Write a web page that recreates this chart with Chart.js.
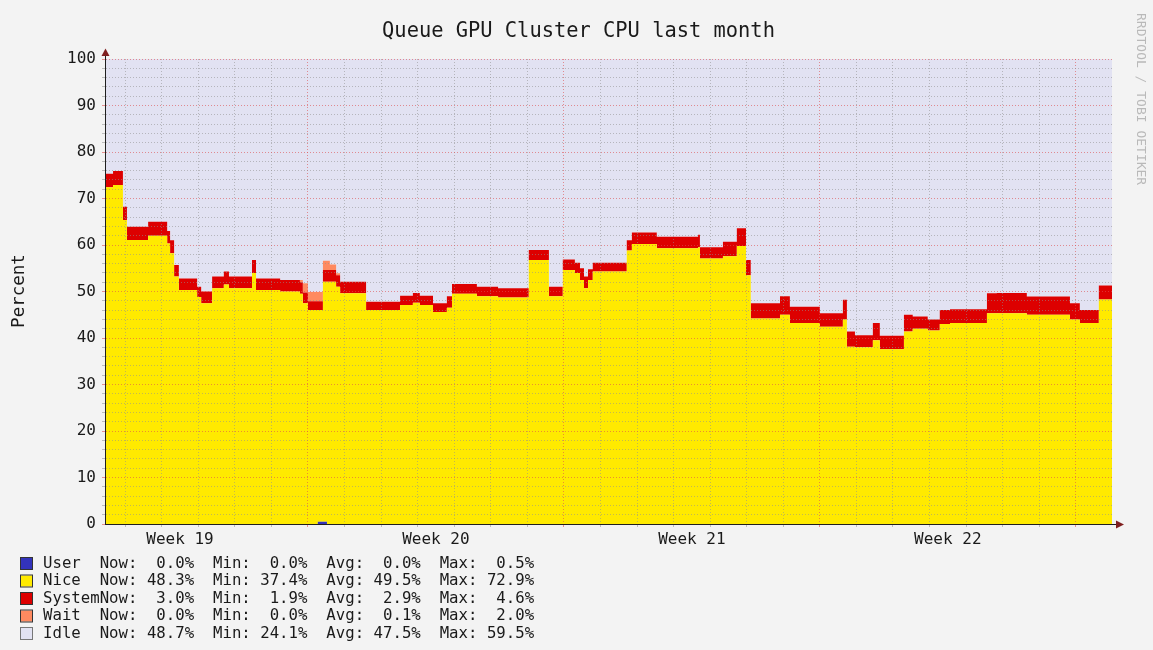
<!DOCTYPE html>
<html>
<head>
<meta charset="utf-8">
<title>Queue GPU Cluster CPU last month</title>
<script src="https://cdn.jsdelivr.net/npm/chart.js@4/dist/chart.umd.min.js"></script>
<style>
  html, body { margin: 0; padding: 0; background: #f3f3f3; }
  canvas { display: block; }
</style>
</head>
<body>
<canvas id="cpuChart" width="1153" height="650"></canvas>
<script>
// time axis: days since the left edge of the graph, one entry per step change
const days = [0.00, 0.22, 0.49, 0.60, 1.18, 1.70, 1.78, 1.89, 2.02, 2.52,
  2.63, 2.93, 3.25, 3.39, 4.02, 4.13, 4.79, 5.33, 5.41, 5.55,
  5.82, 5.96, 6.07, 6.15, 6.32, 6.43, 7.14, 8.07, 8.42, 8.61,
  8.97, 9.35, 9.49, 10.17, 10.75, 11.59, 12.14, 12.52, 12.85, 12.99,
  13.10, 13.21, 13.34, 14.27, 14.41, 15.09, 16.22, 16.27, 16.90, 17.28,
  17.53, 17.66, 18.46, 18.73, 19.55, 20.18, 20.29, 20.51, 21.00, 21.19,
  21.85, 22.09, 22.50, 22.83, 23.11, 24.12, 24.39, 25.21, 26.39, 26.66,
  27.18, 27.54];

const userPct = [0, 0, 0, 0, 0, 0, 0, 0, 0, 0,
  0, 0, 0, 0, 0, 0, 0, 0, 0, 0,
  0.5, 0.5, 0, 0, 0, 0, 0, 0, 0, 0,
  0, 0, 0, 0, 0, 0, 0, 0, 0, 0,
  0, 0, 0, 0, 0, 0, 0, 0, 0, 0,
  0, 0, 0, 0, 0, 0, 0, 0, 0, 0,
  0, 0, 0, 0, 0, 0, 0, 0, 0, 0,
  0, 0];

const nicePct = [72.4, 72.9, 65.4, 61.1, 62.0, 60.3, 58.2, 53.2, 50.3, 48.8,
  47.5, 50.7, 51.5, 50.7, 54.0, 50.3, 50.0, 49.5, 47.5, 46.0,
  45.5, 51.6, 52.1, 52.1, 51.0, 49.6, 46.0, 47.1, 47.6, 47.1,
  45.6, 46.5, 49.5, 49.0, 48.7, 56.8, 49.0, 54.6, 54.0, 52.5,
  50.7, 52.5, 54.3, 58.8, 60.2, 59.3, 59.5, 57.1, 57.6, 59.8,
  53.5, 44.2, 45.0, 43.2, 42.4, 44.0, 38.1, 38.0, 39.5, 37.6,
  41.4, 42.0, 41.6, 43.0, 43.2, 45.3, 45.3, 45.0, 44.0, 43.2,
  48.3, 48.3];

const systemPct = [2.9, 3.0, 2.8, 2.8, 3.0, 2.7, 2.8, 2.5, 2.5, 2.2,
  2.5, 2.5, 2.8, 2.5, 2.8, 2.5, 2.5, 2.5, 2.3, 1.9,
  1.9, 2.5, 2.5, 2.5, 2.5, 2.5, 1.8, 2.0, 2.1, 2.0,
  1.9, 2.5, 2.1, 2.0, 2.0, 2.1, 2.0, 2.3, 2.2, 2.5,
  2.5, 2.3, 1.9, 2.2, 2.5, 2.5, 2.7, 2.4, 3.1, 3.8,
  3.3, 3.3, 4.0, 3.5, 2.9, 4.2, 3.3, 2.6, 3.7, 2.9,
  3.6, 2.6, 2.4, 3.0, 3.0, 4.3, 4.4, 3.9, 3.5, 2.8,
  3.0, 3.0];

const waitPct = [0, 0, 0, 0, 0, 0, 0, 0, 0, 0,
  0, 0, 0, 0, 0, 0, 0, 0.5, 2.0, 2.0,
  2.0, 2.0, 2.0, 1.2, 0.4, 0, 0, 0, 0, 0,
  0, 0, 0, 0, 0, 0, 0, 0, 0, 0,
  0, 0, 0, 0, 0, 0, 0, 0, 0, 0,
  0, 0, 0, 0, 0, 0, 0, 0, 0, 0,
  0, 0, 0, 0, 0, 0, 0, 0, 0, 0,
  0, 0];

const idlePct = [24.7, 24.1, 31.8, 36.1, 35.0, 37.0, 39.0, 44.3, 47.2, 49.0,
  50.0, 46.8, 45.7, 46.8, 43.2, 47.2, 47.5, 47.5, 48.2, 50.1,
  50.1, 43.4, 43.4, 44.2, 46.1, 47.9, 52.2, 50.9, 50.3, 50.9,
  52.5, 51.0, 48.4, 49.0, 49.3, 41.1, 49.0, 43.1, 43.8, 45.0,
  46.8, 45.2, 43.8, 39.0, 37.3, 38.2, 37.8, 40.5, 39.3, 36.4,
  43.2, 52.5, 51.0, 53.3, 54.7, 51.8, 58.6, 59.4, 56.8, 59.5,
  55.0, 55.4, 56.0, 54.0, 53.8, 50.4, 50.3, 51.1, 52.5, 54.0,
  48.7, 48.7];

// legend figures
const seriesNames = ['User', 'Nice', 'System', 'Wait', 'Idle'];
const statNow = [0.0, 48.3, 3.0, 0.0, 48.7];
const statMin = [0.0, 37.4, 1.9, 0.0, 24.1];
const statAvg = [0.0, 49.5, 2.9, 0.1, 47.5];
const statMax = [0.5, 72.9, 4.6, 2.0, 59.5];

// x axis: week labels and the day where each week starts
const weekLabels = ['Week 19', 'Week 20', 'Week 21', 'Week 22'];
const weekLabelDays = [2.05, 9.05, 16.05, 23.05];
const weekStartDays = [5.55, 12.55, 19.55, 26.55];
const firstMidnight = 0.55;
const lastDay = 27.54;

const colors = ['#3333bb', '#ffea00', '#dd0000', '#ff8a60', '#e2e2f2'];
const monoFont = 'DejaVu Sans Mono';
const minorGrid = 'rgba(143,143,143,0.55)';
const majorGrid = 'rgba(222,80,80,0.6)';

function makeDataset(i, values) {
  return {
    label: seriesNames[i],
    data: values,
    backgroundColor: colors[i],
    borderColor: colors[i],
    borderWidth: 0,
    pointRadius: 0,
    stepped: true,
    fill: i == 0 ? 'origin' : '-1'
  };
}

function buildXTicks(scale) {
  var ticks = [];
  for (var d = firstMidnight; d < lastDay; d += 1) {
    var isMajor = weekStartDays.some(function (w) { return Math.abs(w - d) < 0.05; });
    ticks.push({ value: d, kind: isMajor ? 'major' : 'minor', text: '' });
  }
  for (var i = 0; i < weekLabels.length; i++) {
    ticks.push({ value: weekLabelDays[i], kind: 'label', text: weekLabels[i] });
  }
  ticks.sort(function (a, b) { return a.value - b.value; });
  scale.ticks = ticks;
}

function xGridColor(ctx) {
  if (!ctx.tick || ctx.tick.kind == 'label') return 'rgba(0,0,0,0)';
  return ctx.tick.kind == 'major' ? majorGrid : minorGrid;
}

function yGridColor(ctx) {
  if (!ctx.tick) return minorGrid;
  return Math.round(ctx.tick.value) % 10 == 0 ? majorGrid : minorGrid;
}

function pad(v) {
  return v.toFixed(1).padStart(5) + '%';
}

// title, axis label, watermark, arrows and the rrdtool style legend
const rrdDecor = {
  id: 'rrdDecor',
  beforeDraw(chart) {
    const ctx = chart.ctx;
    ctx.save();
    ctx.fillStyle = '#f3f3f3';
    ctx.fillRect(0, 0, chart.width, chart.height);
    ctx.restore();
  },
  afterDraw(chart) {
    const ctx = chart.ctx;
    const area = chart.chartArea;
    ctx.save();

    // title
    ctx.fillStyle = '#1a1a1a';
    ctx.font = '20.4px ' + monoFont;
    ctx.textAlign = 'center';
    ctx.textBaseline = 'alphabetic';
    ctx.fillText('Queue GPU Cluster CPU last month', 578.5, 36.5);

    // vertical axis label
    ctx.save();
    ctx.translate(23.5, 291);
    ctx.rotate(-Math.PI / 2);
    ctx.font = '17.5px ' + monoFont;
    ctx.fillText('Percent', 0, 0);
    ctx.restore();

    // watermark
    ctx.save();
    ctx.translate(1137, 13);
    ctx.rotate(Math.PI / 2);
    ctx.font = '13px ' + monoFont;
    ctx.textAlign = 'left';
    ctx.fillStyle = '#b9b9b9';
    ctx.fillText('RRDTOOL / TOBI OETIKER', 0, 0);
    ctx.restore();

    // axis extensions and arrows
    ctx.strokeStyle = '#1f1f1f';
    ctx.lineWidth = 1;
    ctx.beginPath();
    ctx.moveTo(area.left + 0.5, area.top);
    ctx.lineTo(area.left + 0.5, 55);
    ctx.moveTo(area.right, area.bottom + 0.5);
    ctx.lineTo(1116, area.bottom + 0.5);
    ctx.stroke();

    ctx.fillStyle = '#7f1f1f';
    ctx.beginPath();
    ctx.moveTo(area.left + 0.5, 48.5);
    ctx.lineTo(area.left + 4.5, 56);
    ctx.lineTo(area.left - 3.5, 56);
    ctx.closePath();
    ctx.fill();
    ctx.beginPath();
    ctx.moveTo(1124, area.bottom + 0.5);
    ctx.lineTo(1116, area.bottom - 3.5);
    ctx.lineTo(1116, area.bottom + 4.5);
    ctx.closePath();
    ctx.fill();

    // legend
    ctx.font = '15.7px ' + monoFont;
    ctx.textAlign = 'left';
    ctx.textBaseline = 'middle';
    for (var i = 0; i < seriesNames.length; i++) {
      var y = 563.5 + i * 17.5;
      ctx.fillStyle = colors[i];
      ctx.fillRect(21, y - 5.5, 11, 11);
      ctx.strokeStyle = i == 4 ? '#777' : '#333';
      ctx.strokeRect(20.5, y - 6, 12, 12);
      var line = seriesNames[i].padEnd(6) +
        'Now:' + pad(statNow[i]) + '  ' +
        'Min:' + pad(statMin[i]) + '  ' +
        'Avg:' + pad(statAvg[i]) + '  ' +
        'Max:' + pad(statMax[i]);
      ctx.fillStyle = '#1a1a1a';
      ctx.fillText(line, 43, y);
    }
    ctx.restore();
  }
};

const config = {
  type: 'line',
  data: {
    labels: days,
    datasets: [
      makeDataset(0, userPct),
      makeDataset(1, nicePct),
      makeDataset(2, systemPct),
      makeDataset(3, waitPct),
      makeDataset(4, idlePct)
    ]
  },
  options: {
    responsive: false,
    animation: false,
    events: [],
    layout: { padding: { left: 0, right: 41, top: 59, bottom: 96 } },
    plugins: {
      legend: { display: false },
      title: { display: false },
      tooltip: { enabled: false }
    },
    scales: {
      x: {
        type: 'linear',
        min: 0,
        max: lastDay,
        afterBuildTicks: buildXTicks,
        afterFit: function (scale) { scale.height = 30; },
        // grid over the areas, like rrdtool does
        grid: { z: 1, color: xGridColor, tickColor: xGridColor, tickLength: 3 },
        border: { z: 2, color: '#1f1f1f', dash: [1, 2] },
        ticks: {
          autoSkip: false,
          maxRotation: 0,
          minRotation: 0,
          padding: 3,
          color: '#1a1a1a',
          font: { family: monoFont, size: 16 },
          callback: function (value, index, ticks) {
            return ticks[index].kind == 'label' ? ticks[index].text : '';
          }
        }
      },
      y: {
        stacked: true,
        min: 0,
        max: 100,
        afterFit: function (scale) { scale.width = 105; },
        grid: { z: 1, color: yGridColor, tickColor: yGridColor, tickLength: 3 },
        border: { z: 2, color: '#1f1f1f', dash: [1, 2] },
        ticks: {
          stepSize: 2,
          autoSkip: false,
          padding: 6,
          color: '#1a1a1a',
          font: { family: monoFont, size: 16 },
          callback: function (value) {
            return Math.round(value) % 10 == 0 ? value : '';
          }
        }
      }
    }
  },
  plugins: [rrdDecor]
};

new Chart(document.getElementById('cpuChart'), config);
</script>
</body>
</html>
